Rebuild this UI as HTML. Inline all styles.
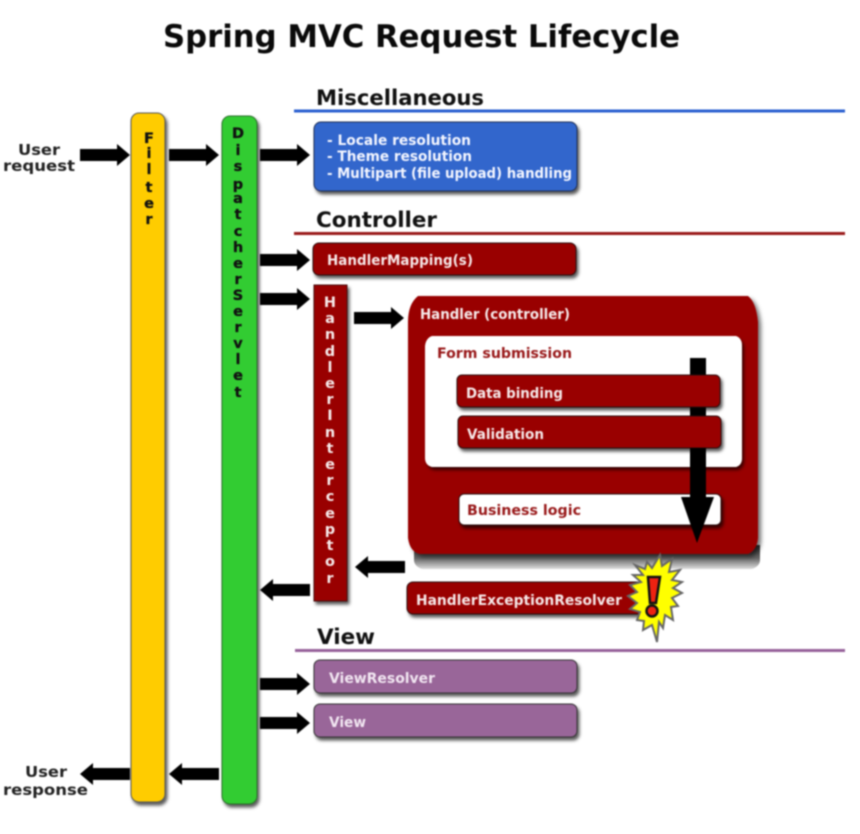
<!DOCTYPE html>
<html><head><meta charset="utf-8"><title>Spring MVC Request Lifecycle</title>
<style>
html,body{margin:0;padding:0;background:#fff;width:860px;height:834px;overflow:hidden}
svg{display:block;filter:blur(.8px)}
text{font-family:"DejaVu Sans","Liberation Sans",sans-serif;font-weight:bold}
</style></head><body>
<svg width="860" height="834" viewBox="0 0 860 834" xmlns="http://www.w3.org/2000/svg">
<defs>
<filter id="s" x="-20%" y="-20%" width="140%" height="140%"><feDropShadow dx="2" dy="3" stdDeviation="1.500" flood-color="#000" flood-opacity=".65"/></filter>
<filter id="b" x="-10%" y="-10%" width="120%" height="125%"><feDropShadow dx="3" dy="3" stdDeviation="2" flood-color="#000" flood-opacity=".55"/></filter>
<linearGradient id="g" x1="0" y1="0" x2="0" y2="1"><stop offset="0" stop-color="#333"/><stop offset=".55" stop-color="#666"/><stop offset="1" stop-color="#ddd"/></linearGradient>
<path id="r" d="M0-6H37V-11L50 0L37 11V6H0Z" fill="#000"/>
<path id="l" d="M50-6H13V-11L0 0L13 11V6H50Z" fill="#000"/>
</defs>
<rect width="860" height="834" fill="#fff"/>

<text x="163" y="47" font-size="31" textLength="517" lengthAdjust="spacingAndGlyphs" fill="#0a0a0a">Spring MVC Request Lifecycle</text>

<text x="316" y="105" font-size="21" textLength="168" lengthAdjust="spacingAndGlyphs" fill="#111">Miscellaneous</text>
<rect x="294" y="109.500" width="551" height="3" fill="#2a5fd0"/>
<text x="316" y="227" font-size="21" textLength="121" lengthAdjust="spacingAndGlyphs" fill="#111">Controller</text>
<rect x="294" y="232" width="551" height="3" fill="#9a1a1a"/>
<text x="317" y="644" font-size="21" textLength="58" lengthAdjust="spacingAndGlyphs" fill="#111">View</text>
<rect x="295" y="649" width="550" height="3" fill="#96619a"/>

<!-- Filter -->
<rect x="131" y="113" width="34" height="689" rx="8" fill="#ffcc00" stroke="#555" stroke-width="1" filter="url(#s)"/>
<g font-size="14.500" fill="#111" text-anchor="middle" stroke="#111" stroke-width=".3">
<text x="149" y="143">F</text><text x="149" y="158">i</text><text x="149" y="174">l</text><text x="149" y="192">t</text><text x="149" y="208">e</text><text x="149" y="224">r</text>
</g>
<!-- DispatcherServlet -->
<rect x="222" y="116" width="35" height="688" rx="8" fill="#33cc33" stroke="#2c6e2c" stroke-width="1" filter="url(#s)"/>
<g font-size="14.500" fill="#111" text-anchor="middle" stroke="#111" stroke-width=".3">
<text x="238" y="138">D</text><text x="238" y="155">i</text><text x="238" y="171">s</text><text x="238" y="189">p</text><text x="238" y="203">a</text><text x="238" y="219">t</text><text x="238" y="236">c</text><text x="238" y="252">h</text><text x="238" y="268">e</text><text x="238" y="284">r</text><text x="238" y="300">S</text><text x="238" y="316">e</text><text x="238" y="332">r</text><text x="238" y="348">v</text><text x="238" y="364">l</text><text x="238" y="380">e</text><text x="238" y="397">t</text>
</g>

<!-- Blue box -->
<rect x="314" y="122" width="263" height="69" rx="7" fill="#3366cc" stroke="#1f2f55" stroke-width="1" filter="url(#s)"/>
<g fill="#f4f6ff" font-size="14">
<text x="327" y="145" textLength="144" lengthAdjust="spacingAndGlyphs">- Locale resolution</text>
<text x="327" y="161" textLength="145" lengthAdjust="spacingAndGlyphs">- Theme resolution</text>
<text x="327" y="178" textLength="245" lengthAdjust="spacingAndGlyphs">- Multipart (file upload) handling</text>
</g>

<!-- HandlerMapping -->
<rect x="313" y="243" width="263" height="32" rx="6" fill="#990000" stroke="#2a0a0a" stroke-width="1" filter="url(#s)"/>
<text x="327" y="265" font-size="14" fill="#f6e8e8" textLength="146" lengthAdjust="spacingAndGlyphs">HandlerMapping(s)</text>

<!-- HandlerInterceptor -->
<rect x="314" y="285" width="33" height="316" fill="#990000" stroke="#4a1010" stroke-width="1" filter="url(#s)"/>
<g font-size="14.500" fill="#f6eaea" text-anchor="middle">
<text x="330" y="307">H</text><text x="330" y="323">a</text><text x="330" y="339">n</text><text x="330" y="356">d</text><text x="330" y="372">l</text><text x="330" y="388">e</text><text x="330" y="404">r</text><text x="330" y="420">I</text><text x="330" y="437">n</text><text x="330" y="453">t</text><text x="330" y="469">e</text><text x="330" y="485">r</text><text x="330" y="501">c</text><text x="330" y="518">e</text><text x="330" y="534">p</text><text x="330" y="550">t</text><text x="330" y="566">o</text><text x="330" y="583">r</text>
</g>

<!-- Handler -->
<path d="M414 545H760V560Q760 566 752 569H422Q414 566 414 560Z" fill="url(#g)"/>
<path d="M418 296H748Q756 302 758 322V538Q757 550 748 554H420Q410 552 408 538V322Q408 304 418 296Z" fill="#990000" filter="url(#b)"/>
<text x="420" y="319" font-size="14.500" fill="#f6eaea" textLength="150" lengthAdjust="spacingAndGlyphs">Handler (controller)</text>
<path d="M432 336H736Q742 338 742 346V458Q742 465 736 467H432Q425 465 425 458V346Q426 338 432 336Z" fill="#fff" filter="url(#s)"/>
<text x="437" y="358" font-size="14.500" fill="#99191a" textLength="135" lengthAdjust="spacingAndGlyphs">Form submission</text>

<rect x="690" y="358" width="16" height="140" fill="#000"/>
<rect x="457" y="375" width="263" height="32" rx="5" fill="#990000" stroke="#2a0a0a" stroke-width="1" filter="url(#s)"/>
<text x="466" y="398" font-size="14" fill="#f6e8e8" textLength="97" lengthAdjust="spacingAndGlyphs">Data binding</text>
<rect x="458" y="416" width="263" height="32" rx="5" fill="#990000" stroke="#2a0a0a" stroke-width="1" filter="url(#s)"/>
<text x="467" y="439" font-size="14" fill="#f6e8e8" textLength="77" lengthAdjust="spacingAndGlyphs">Validation</text>
<rect x="459" y="494" width="262" height="31" rx="5" fill="#fff" stroke="#2a0a0a" stroke-width="1" filter="url(#s)"/>
<text x="467" y="515" font-size="14" fill="#99191a" textLength="114" lengthAdjust="spacingAndGlyphs">Business logic</text>
<path d="M690 448H706V497H714L697 543L681 497H690Z" fill="#000"/>

<!-- Exception resolver -->
<rect x="407" y="582" width="240" height="32" rx="6" fill="#990000" stroke="#2a0a0a" stroke-width="1" filter="url(#s)"/>
<text x="416" y="605" font-size="14" fill="#f6e8e8" textLength="206" lengthAdjust="spacingAndGlyphs">HandlerExceptionResolver</text>
<polygon points="635,565 645,569 647,562 652,568 660,555 662,566 672,559 669,572 680,570 672,580 682,582 673,588 682,593 672,598 678,606 671,607 673,620 665,615 663,628 659,622 657,642 652,625 643,630 644,621 637,620 640,612 630,609 637,603 628,596 637,592 630,585 641,582 633,575 643,575" fill="#ffff00" stroke="#666" stroke-width="2" stroke-linejoin="miter"/>
<path d="M648 577H660L656 603H650Z" fill="#ee2211" stroke="#111" stroke-width="2.500"/>
<circle cx="652" cy="611" r="5.500" fill="#ee2211" stroke="#111" stroke-width="2.500"/>

<!-- View boxes -->
<rect x="314" y="660" width="263" height="33" rx="6" fill="#996699" stroke="#333" stroke-width="1" filter="url(#s)"/>
<text x="329" y="683" font-size="14" fill="#f1e6f1" textLength="106" lengthAdjust="spacingAndGlyphs">ViewResolver</text>
<rect x="314" y="704" width="263" height="33" rx="6" fill="#996699" stroke="#333" stroke-width="1" filter="url(#s)"/>
<text x="329" y="727" font-size="14" fill="#f1e6f1" textLength="37" lengthAdjust="spacingAndGlyphs">View</text>

<!-- Arrows -->
<use href="#r" x="80" y="155"/>
<use href="#r" x="169" y="155"/>
<use href="#r" x="260" y="155"/>
<use href="#r" x="260" y="260"/>
<use href="#r" x="260" y="299"/>
<use href="#r" x="354" y="318"/>
<use href="#l" x="355" y="567"/>
<use href="#l" x="260" y="590"/>
<use href="#r" x="260" y="684"/>
<use href="#r" x="260" y="723"/>
<use href="#l" x="80" y="774"/>
<use href="#l" x="169" y="774"/>

<!-- User labels -->
<g font-size="15" fill="#222">
<text x="18" y="155" textLength="42" lengthAdjust="spacingAndGlyphs">User</text>
<text x="3" y="171" textLength="72" lengthAdjust="spacingAndGlyphs">request</text>
<text x="25" y="777" textLength="42" lengthAdjust="spacingAndGlyphs">User</text>
<text x="3" y="795" textLength="85" lengthAdjust="spacingAndGlyphs">response</text>
</g>
</svg>
</body></html>
